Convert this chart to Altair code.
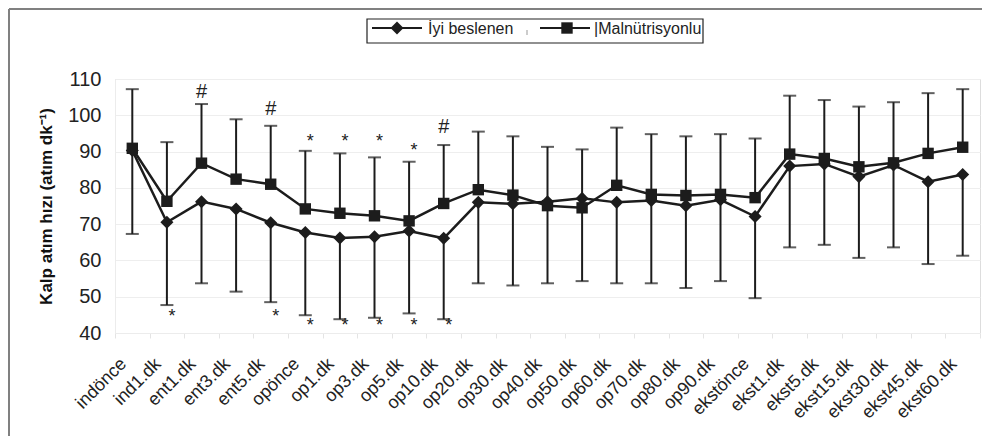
import altair as alt
import pandas as pd

categories = ["indönce", "ind1.dk", "ent1.dk", "ent3.dk", "ent5.dk", "opönce",
              "op1.dk", "op3.dk", "op5.dk", "op10.dk", "op20.dk", "op30.dk",
              "op40.dk", "op50.dk", "op60.dk", "op70.dk", "op80.dk", "op90.dk",
              "ekstönce", "ekst1.dk", "ekst5.dk", "ekst15.dk", "ekst30.dk",
              "ekst45.dk", "ekst60.dk"]
series_names = ["İyi beslenen", "Malnütrisyonlu"]

# İyi beslenen: mean and lower end of error bar (mean - SD)
iyi_mean = [90.3, 70.5, 76.2, 74.2, 70.4, 67.7, 66.2, 66.5, 68.1, 66.1, 76.0, 75.6,
            76.2, 77.1, 76.0, 76.5, 75.1, 76.7, 72.1, 86.0, 86.6, 83.1, 86.3, 81.7, 83.7]
iyi_low = [67.3, 47.7, 53.7, 51.4, 48.5, 44.9, 43.8, 44.2, 45.4, 43.8, 53.7, 53.1,
           53.7, 54.3, 53.7, 53.7, 52.4, 54.3, 49.6, 63.6, 64.3, 60.7, 63.6, 59.0, 61.3]
# Malnütrisyonlu: mean and upper end of error bar (mean + SD)
mal_mean = [90.9, 76.3, 86.8, 82.4, 81.0, 74.2, 73.0, 72.3, 70.9, 75.7, 79.5, 78.0,
            75.1, 74.5, 80.7, 78.2, 77.9, 78.2, 77.3, 89.3, 88.1, 85.8, 86.9, 89.5, 91.2]
mal_high = [107.2, 92.6, 103.1, 98.9, 97.1, 90.2, 89.5, 88.4, 87.2, 91.8, 95.5, 94.2,
            91.3, 90.6, 96.6, 94.8, 94.2, 94.8, 93.6, 105.4, 104.2, 102.4, 103.6, 106.1, 107.2]

hash_cats = ["ent1.dk", "ent5.dk", "op10.dk"]
hash_y = [106.5, 101.7, 96.9]
star_top_cats = ["opönce", "op1.dk", "op3.dk", "op5.dk"]
star_top_y = [93.7, 93.7, 93.7, 91.2]
star_bot_cats = ["ind1.dk", "ent5.dk", "opönce", "op1.dk", "op3.dk", "op5.dk", "op10.dk"]
star_bot_y = [45.6, 45.5, 43.1, 43.1, 43.1, 43.1, 43.1]

y_ticks = [40, 50, 60, 70, 80, 90, 100, 110]
y_title = "Kalp atım hızı (atım dk⁻¹)"

rows = []
for c, m, e in zip(categories, iyi_mean, iyi_low):
    rows.append({"cat": c, "series": series_names[0], "mean": m, "end": e})
for c, m, e in zip(categories, mal_mean, mal_high):
    rows.append({"cat": c, "series": series_names[1], "mean": m, "end": e})
df = pd.DataFrame(rows)

hash_df = pd.DataFrame({"cat": hash_cats, "yv": hash_y, "t": ["#"] * len(hash_cats)})
stop_df = pd.DataFrame({"cat": star_top_cats, "yv": star_top_y, "t": ["*"] * len(star_top_cats)})
sbot_df = pd.DataFrame({"cat": star_bot_cats, "yv": star_bot_y, "t": ["*"] * len(star_bot_cats)})

INK = "#1c1c1c"
FONT = "Liberation Sans"

x_scale = alt.Scale(type="band", domain=categories, paddingInner=0, paddingOuter=0)
x_axis = alt.Axis(labelAngle=-45, labelAlign="right", labelBaseline="middle",
                  labelFontSize=18, labelColor="#222", labelPadding=23, labelOffset=-9,
                  labelOverlap=False, labelBound=False,
                  ticks=True, tickBand="extent", tickColor="#e4e4e4", tickSize=5,
                  domainColor="#ececec", grid=False, labelFont=FONT)
x_enc = alt.X("cat:N", sort=categories, title=None, scale=x_scale, axis=x_axis)

y_scale = alt.Scale(domain=[40, 110], nice=False, zero=False)
y_axis = alt.Axis(values=y_ticks, title=y_title, titleFontSize=17, titleFontWeight="bold",
                  titleColor="#111", titlePadding=12, labelFontSize=20, labelColor="#222",
                  labelPadding=14, labelOverlap=False, labelBound=False, ticks=False,
                  domainColor="#ececec", grid=True,
                  gridColor="#eeeeee", labelFont=FONT, titleFont=FONT)


def yq(field):
    return alt.Y(field, type="quantitative", scale=y_scale, axis=y_axis, title=y_title)


base = alt.Chart(df)

lines = base.mark_line(color=INK, strokeWidth=2.5).encode(x=x_enc, y=yq("mean"), detail="series:N")
err_rule = base.mark_rule(color=INK, strokeWidth=2).encode(x=x_enc, y=yq("mean"), y2="end:Q")
err_cap = base.mark_tick(color=INK, size=13, thickness=2, orient="horizontal").encode(
    x=x_enc, y=yq("end"))
points = base.mark_point(filled=True, color=INK, opacity=1).encode(
    x=x_enc, y=yq("mean"),
    shape=alt.Shape("series:N", scale=alt.Scale(domain=series_names, range=["diamond", "square"]), legend=None),
    size=alt.Size("series:N", scale=alt.Scale(domain=series_names, range=[170, 130]), legend=None),
)

hash_txt = alt.Chart(hash_df).mark_text(fontSize=20, font=FONT, color="#222", baseline="middle").encode(
    x=x_enc, y=yq("yv"), text="t:N")
stop_txt = alt.Chart(stop_df).mark_text(fontSize=18, font=FONT, color="#222", baseline="middle", dx=5, dy=4).encode(
    x=x_enc, y=yq("yv"), text="t:N")
sbot_txt = alt.Chart(sbot_df).mark_text(fontSize=18, font=FONT, color="#222", baseline="middle", dx=5, dy=4).encode(
    x=x_enc, y=yq("yv"), text="t:N")

# frame around the whole figure (top and left edges visible)
one = pd.DataFrame({"name": [""]})
frame_top = alt.Chart(one).mark_rule(color="#808080", strokeWidth=2).encode(
    x=alt.value(-106), x2=alt.value(867), y=alt.value(-70))
frame_left = alt.Chart(one).mark_rule(color="#808080", strokeWidth=2).encode(
    x=alt.value(-106), y=alt.value(-70), y2=alt.value(357))

# legend
leg_box = alt.Chart(one).mark_rect(fill="white", stroke="#222", strokeWidth=1.2).encode(
    x=alt.value(252), x2=alt.value(588), y=alt.value(-60), y2=alt.value(-36))
leg1 = pd.DataFrame({"name": [series_names[0]]})
leg2 = pd.DataFrame({"name": ["|" + series_names[1]]})
leg_line1 = alt.Chart(leg1).mark_rule(color=INK, strokeWidth=2).encode(
    x=alt.value(257), x2=alt.value(307), y=alt.value(-51))
leg_pt1 = alt.Chart(leg1).mark_point(filled=True, color=INK, opacity=1, shape="diamond", size=170).encode(
    x=alt.value(282), y=alt.value(-51))
leg_txt1 = alt.Chart(leg1).mark_text(fontSize=16, font=FONT, color="#222", align="left", baseline="middle").encode(
    x=alt.value(313), y=alt.value(-50), text="name:N")
leg_sep = alt.Chart(one).mark_rule(color="#999", strokeWidth=1).encode(
    x=alt.value(412), y=alt.value(-49), y2=alt.value(-44))
leg_line2 = alt.Chart(leg2).mark_rule(color=INK, strokeWidth=2).encode(
    x=alt.value(425), x2=alt.value(475), y=alt.value(-51))
leg_pt2 = alt.Chart(leg2).mark_point(filled=True, color=INK, opacity=1, shape="square", size=130).encode(
    x=alt.value(452), y=alt.value(-51))
leg_txt2 = alt.Chart(leg2).mark_text(fontSize=16, font=FONT, color="#222", align="left", baseline="middle").encode(
    x=alt.value(479), y=alt.value(-50), text="name:N")

chart = alt.layer(
    lines, err_rule, err_cap, points, hash_txt, stop_txt, sbot_txt,
    frame_top, frame_left, leg_box, leg_line1, leg_pt1, leg_txt1, leg_sep,
    leg_line2, leg_pt2, leg_txt2,
).properties(
    width=865, height=254,
    autosize=alt.AutoSizeParams(type="none"),
    padding={"left": 107, "top": 71, "right": 2, "bottom": 103},
).configure_view(stroke=None).configure(font=FONT)

chart.save("out.html", embed_options={"renderer": "svg", "actions": False})
